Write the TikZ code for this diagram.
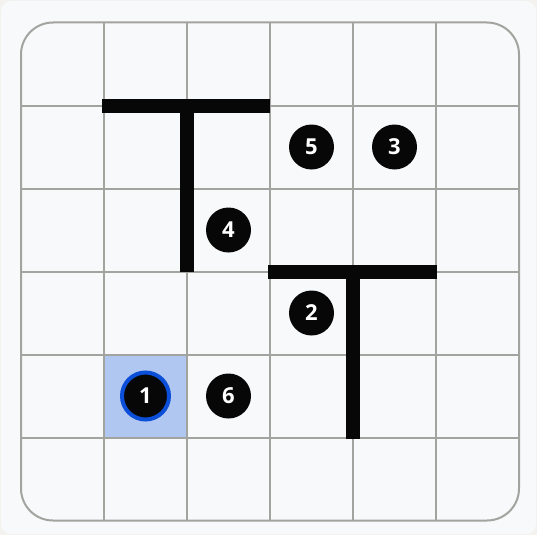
\documentclass[tikz,border=0pt]{standalone}
\usepackage{fontspec}
\newfontfamily\tokenfont{Open Sans}
\usetikzlibrary{positioning, calc}

\definecolor{pagebg}{HTML}{F3F2EF}
\definecolor{boardbg}{HTML}{F8F9FA}
\definecolor{gridgray}{HTML}{A3A3A0}
\definecolor{cellblue}{HTML}{AFC7F1}
\definecolor{celledge}{HTML}{8DACE8}
\definecolor{ringblue}{HTML}{0B4FD8}
\definecolor{inkblack}{HTML}{070707}

\begin{document}
\begin{tikzpicture}[
  x=1pt, y=-1pt,
  gridline/.style={draw=gridgray, line width=2pt},
  wall/.style={draw=inkblack, line width=14pt, line cap=butt},
  token/.style={circle, fill=inkblack, minimum size=45pt, inner sep=0pt,
    text=white, font=\tokenfont\bfseries\fontsize{22}{22}\selectfont},
  current/.style={token, draw=ringblue, line width=4pt, minimum size=47pt},
  goalcell/.style={fill=cellblue, draw=celledge, line width=1.2pt}
]

% =========================
% Page and board
% =========================
\fill[pagebg] (0,0) rectangle (537,535);
\fill[boardbg, rounded corners=10pt] (1,1) rectangle (536,534);
\useasboundingbox (0,0) rectangle (537,535);

% grid points g<col><row>
\foreach \i in {0,...,6}
  \foreach \j in {0,...,6}
    \coordinate (g\i\j) at (21+83*\i, 22.5+83*\j);

% highlighted cell
\path[goalcell] (g14) rectangle (g25);

% grid lines
\foreach \k in {1,...,5} {
  \draw[gridline] (g\k0) -- (g\k6);
  \draw[gridline] (g0\k) -- (g6\k);
}
\draw[gridline, rounded corners=32pt] (g00) rectangle (g66);

% =========================
% Walls
% =========================
\draw[wall] ($(g11)+(-2,0)$) -- (g31);
\draw[wall] (g21) -- (g23);
\draw[wall] ($(g33)+(-2,0)$) -- ($(g53)+(1,0)$);
\draw[wall] (g43) -- ($(g45)+(0,1)$);

% =========================
% Tokens
% =========================
\node[current] (t1) at ($(g14)!0.5!(g25)$) {1};
\node[token] (t6) at ($(g24)!0.5!(g35)$) {6};
\node[token] (t2) at ($(g33)!0.5!(g44)$) {2};
\node[token] (t4) at ($(g22)!0.5!(g33)$) {4};
\node[token] (t5) at ($(g31)!0.5!(g42)$) {5};
\node[token] (t3) at ($(g41)!0.5!(g52)$) {3};

\end{tikzpicture}
\end{document}
